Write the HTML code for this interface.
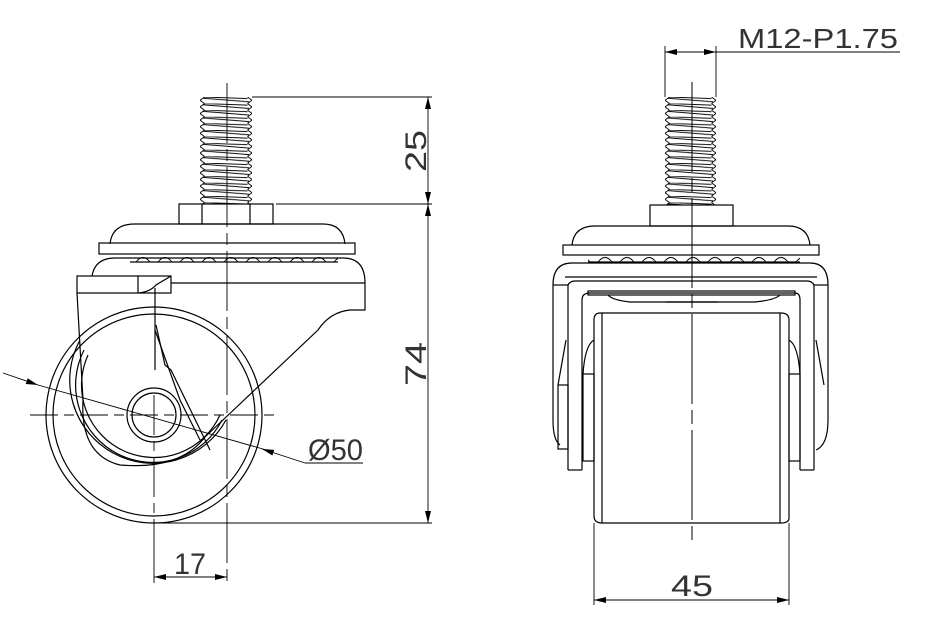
<!DOCTYPE html>
<html><head><meta charset="utf-8"><style>
html,body{margin:0;padding:0;background:#fff;}
svg{display:block}
text{font-family:"Liberation Sans",sans-serif;fill:#333;}
</style></head><body>
<svg width="932" height="625" viewBox="0 0 932 625" xmlns="http://www.w3.org/2000/svg">
<defs>
<pattern id="thL" patternUnits="userSpaceOnUse" x="200" y="97" width="52" height="6.6">
<path d="M4.5 0 L0 3.3 L4.5 6.6 M47.5 0 L52 3.3 L47.5 6.6 M3 1.2 L49 4.8 M4.5 0 L47.5 1.5" stroke="#000" stroke-width="0.9" fill="none"/>
</pattern>
<pattern id="thR" patternUnits="userSpaceOnUse" x="665" y="97" width="51" height="6.6">
<path d="M4.5 0 L0 3.3 L4.5 6.6 M46.5 0 L51 3.3 L46.5 6.6 M3 1.2 L48 4.8 M4.5 0 L46.5 1.5" stroke="#000" stroke-width="0.9" fill="none"/>
</pattern>
<pattern id="balls" patternUnits="userSpaceOnUse" x="0" y="254" width="22" height="9">
<path d="M4 8 Q11 -1 18 8" stroke="#000" stroke-width="0.9" fill="none"/>
</pattern>
<marker id="ar" viewBox="0 0 12 6" refX="12" refY="3" markerWidth="12" markerHeight="6" orient="auto-start-reverse" markerUnits="userSpaceOnUse"><path d="M0 0 L12 3 L0 6 Z" fill="#000"/></marker>
</defs>
<g stroke="#000" stroke-width="1.2" fill="none">
<!-- LEFT VIEW -->
<rect x="200" y="97" width="52" height="107" fill="url(#thL)" stroke="none"/>
<rect x="179" y="204" width="94" height="20"/>
<line x1="202" y1="204" x2="202" y2="224"/><line x1="250" y1="204" x2="250" y2="224"/>
<path d="M110 244 Q112 224 135 224 L323 224 Q343 224 345 244"/>
<rect x="99" y="243" width="256" height="11"/>
<rect x="130" y="254" width="208" height="8" fill="url(#balls)" stroke="none"/>
<line x1="130" y1="262" x2="338" y2="262"/>
<path d="M92 276 Q95 258 115 258 L343 258 Q365 258 365 283 L365 310 L350 310 Q330 312 318 330 L205 437"/>
<line x1="171" y1="283" x2="365" y2="283"/>
<rect x="77" y="276" width="94" height="17"/>
<line x1="138" y1="276" x2="138" y2="293"/>
<path d="M138 293 Q150 292 156 285 L171 276"/>
<line x1="155" y1="288" x2="155" y2="370"/>
<path d="M156 325 L165 365 L171 370 L210 450"/>
<path d="M155 330 L180 400 L200 440"/>
<path d="M77 293 L83 400 Q80 455 120 465 Q180 470 205 437"/>
<circle cx="154" cy="415" r="108"/>
<circle cx="154" cy="415" r="101"/>
<path d="M80 340 A76 76 0 1 0 226 420"/>
<path d="M84 350 A72 72 0 1 0 222 420"/>
<path d="M88 355 A68 68 0 1 0 220 415"/>
<circle cx="154" cy="415" r="27"/>
<circle cx="154" cy="415" r="22"/>
<g stroke-width="0.9">
<line x1="227" y1="83" x2="227" y2="583" stroke-dasharray="60 6 12 6"/>
<line x1="30" y1="415" x2="277" y2="415" stroke-dasharray="28 6 10 6"/>
<line x1="154" y1="395" x2="154" y2="523" stroke-dasharray="40 6 10 6"/>
<line x1="154" y1="523" x2="154" y2="583"/>
<line x1="252" y1="97" x2="432" y2="97"/>
<line x1="276" y1="204" x2="432" y2="204"/>
<line x1="148" y1="523" x2="432" y2="523"/>
<line x1="428" y1="97" x2="428" y2="204" marker-start="url(#ar)" marker-end="url(#ar)"/>
<line x1="428" y1="204" x2="428" y2="523" marker-start="url(#ar)" marker-end="url(#ar)"/>
<line x1="154" y1="577" x2="227" y2="577" marker-start="url(#ar)" marker-end="url(#ar)"/>
<line x1="3" y1="373" x2="38" y2="385" marker-end="url(#ar)"/>
<line x1="38" y1="385" x2="270" y2="451"/>
<line x1="305" y1="463" x2="262" y2="449" marker-end="url(#ar)"/>
<line x1="305" y1="463" x2="363" y2="463"/>
<!-- RIGHT VIEW -->
<line x1="692" y1="82" x2="692" y2="540" stroke-dasharray="90 6 14 6" stroke-width="1"/>
<line x1="665" y1="46" x2="665" y2="97"/><line x1="716" y1="46" x2="716" y2="97"/>
<line x1="692" y1="52" x2="665" y2="52" marker-end="url(#ar)"/>
<line x1="692" y1="52" x2="716" y2="52" marker-end="url(#ar)"/>
<line x1="716" y1="52" x2="900" y2="52"/>
<line x1="594" y1="523" x2="594" y2="605"/><line x1="789" y1="523" x2="789" y2="605"/>
<line x1="594" y1="600" x2="789" y2="600" marker-start="url(#ar)" marker-end="url(#ar)"/>
</g>
<rect x="665" y="97" width="51" height="108" fill="url(#thR)" stroke="none"/>
<rect x="650" y="205" width="83" height="21"/>
<path d="M572 245 Q574 226 595 226 L788 226 Q808 226 810 245"/>
<rect x="563" y="245" width="256" height="10"/>
<rect x="588" y="255" width="212" height="7" fill="url(#balls)" stroke="none"/>
<line x1="588" y1="262" x2="800" y2="262"/>
<path d="M553 285 Q553 263 572 263 L810 263 Q828 263 828 285 L828 420 Q828 445 816 450"/>
<path d="M553 285 L553 420 Q553 440 560 445"/>
<line x1="553" y1="285" x2="568" y2="285"/><line x1="814" y1="285" x2="828" y2="285"/>
<line x1="565" y1="277" x2="817" y2="277"/>
<path d="M568 470 L568 285 Q570 281 575 281 L807 281 Q812 281 814 285 L814 470"/>
<line x1="568" y1="470" x2="582" y2="470"/><line x1="800" y1="470" x2="814" y2="470"/>
<path d="M582 470 L582 300 Q582 293 590 293 L795 293 Q800 293 800 300 L800 470"/>
<rect x="588" y="291" width="207" height="4"/>
<path d="M608 295 Q612 300 630 302 L755 302 Q775 300 780 295"/>
<line x1="666" y1="302" x2="718" y2="302"/>
<path d="M600 313 L781 313 Q789 313 789 320 L789 518 Q789 523 781 523 L602 523 Q594 523 594 516 L594 320 Q594 313 600 313"/>
<line x1="602" y1="313" x2="602" y2="523"/><line x1="780" y1="313" x2="780" y2="523"/>
<rect x="583" y="374" width="11" height="87"/><rect x="789" y="374" width="11" height="87"/>
<rect x="558" y="385" width="10" height="64"/>
<path d="M594 340 Q585 345 583 374"/><path d="M789 340 Q798 345 800 374"/>
<path d="M566 340 L558 385"/><path d="M816 340 L824 385"/>
</g>
<g font-size="30">
<text transform="translate(426,172) rotate(-90)" textLength="42" lengthAdjust="spacingAndGlyphs">25</text>
<text transform="translate(426,386) rotate(-90)" textLength="44" lengthAdjust="spacingAndGlyphs">74</text>
<text x="308" y="460" textLength="55" lengthAdjust="spacingAndGlyphs">Ø50</text>
<text x="174" y="574" textLength="32" lengthAdjust="spacingAndGlyphs">17</text>
<text x="671" y="596" textLength="42" lengthAdjust="spacingAndGlyphs">45</text>
<text x="738" y="48" font-size="28" textLength="160" lengthAdjust="spacingAndGlyphs">M12-P1.75</text>
</g>
</svg>
</body></html>
